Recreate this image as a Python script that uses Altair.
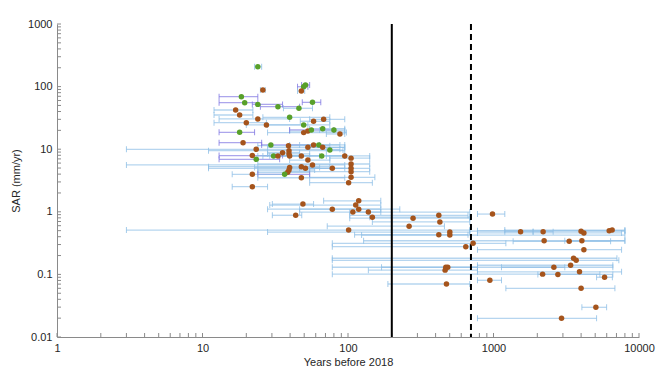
import altair as alt
import pandas as pd

# ---- data ----
# upper cluster (years before 2018, lower / upper bound of age, SAR, dot group, bar group)
years_u = [24, 26, 51, 49.6, 47.8, 18.5, 19.5, 24, 33, 46, 57, 16.9, 18, 24, 20, 27.5, 39.7, 58, 68, 49.6,
           18, 49.6, 53, 56, 67, 80, 88, 19, 29.5, 39, 53, 58, 63, 67, 75, 23.4, 22, 23.4, 30.8, 33,
           35.5, 39.3, 39.3, 39.7, 47.8, 53, 66, 95, 105, 105, 105, 105, 57, 47.8, 51, 39.7, 39.3, 38.5, 36.7, 22,
           78, 47.8, 105, 101, 22]
lo_u = [22.8, 25, 48, 45, 45, 13, 13, 22, 25, 36, 48.5, 12, 12, 13, 12, 20, 26, 47, 54.5, 28,
        13, 28, 39.7, 39.7, 54.5, 63.8, 71, 13, 25.5, 24, 28, 39.7, 46.5, 54.5, 71, 3, 13, 13, 24, 26,
        28, 11, 28, 29, 33.9, 39.7, 46.5, 71, 75, 24, 46.5, 39.7, 3, 11, 11, 22.8, 24, 24, 24, 16,
        54.5, 24, 54.5, 54.5, 16]
hi_u = [25.5, 27, 54.5, 53, 50.4, 24, 24, 35.5, 46.5, 57, 65, 22.2, 22.2, 39.7, 27.5, 53, 75, 75, 95, 75,
        22.8, 97.5, 95, 80, 95, 95, 95, 25.5, 63.8, 75, 95, 95, 88, 95, 92.4, 88, 35.5, 33.9, 46.5, 54.5,
        46.5, 95, 54.5, 63.8, 95, 75, 95, 141, 141, 141, 141, 141, 95, 75, 95, 63.8, 59, 54.5, 54.5, 36.7,
        102.8, 95, 153, 147, 28]
sar_u = [208, 88, 106, 99.6, 85, 69, 55.3, 52, 47.7, 45, 56, 42.3, 35.2, 30.4, 26.5, 24.4, 32.3, 27.9, 30, 24.4,
         18.6, 18.4, 19.5, 20.3, 21.3, 20.3, 17.5, 12.7, 11.7, 11.4, 10.7, 11.7, 11.7, 10.7, 9.7, 9.96, 7.9, 6.9, 7.8, 7.8,
         8.8, 9.46, 8.4, 7.8, 7.8, 6.7, 7.8, 7.8, 7.2, 5.8, 4.95, 4.38, 5.6, 5.25, 4.95, 5.1, 4.65, 4.28, 3.97, 3.97,
         4.95, 3.5, 3.56, 2.92, 2.52]
dot_u = ["G", "B", "G", "G", "B", "G", "G", "G", "G", "G", "G", "B", "B", "B", "B", "B", "G", "B", "B", "G",
         "G", "B", "B", "G", "G", "G", "B", "B", "G", "B", "B", "B", "G", "B", "G", "B", "B", "G", "G", "B",
         "B", "B", "B", "B", "B", "B", "G", "B", "B", "B", "B", "B", "B", "B", "B", "B", "B", "B", "G", "B",
         "B", "B", "B", "B", "B"]
bar_u = ["b", "b", "p", "p", "b", "p", "p", "p", "p", "b", "p", "b", "b", "b", "b", "b", "b", "b", "b", "b",
         "p", "b", "b", "p", "b", "b", "b", "p", "p", "b", "b", "b", "b", "b", "b", "b", "p", "p", "b", "b",
         "b", "b", "b", "b", "b", "b", "b", "b", "b", "b", "b", "b", "b", "b", "b", "b", "b", "b", "p", "b",
         "b", "b", "b", "b", "b"]

# lower cluster (all brown dots, blue bars)
years_l = [49, 118.5, 113, 78, 118.5, 108, 138, 43.7, 147, 280, 421, 428, 263, 984, 101, 421, 501, 501, 1535, 2193,
           4000, 4180, 6240, 6540, 2229, 3313, 4050, 645, 724, 4180, 3550, 3700, 470, 485, 465, 2600, 3388, 3900, 2175, 2770,
           5800, 944, 475, 4000, 5055, 2935]
lo_l = [30.2, 68, 29, 28, 46.5, 46.5, 102.8, 30.2, 141, 102.8, 102.8, 147, 72, 776, 3, 111, 28, 124, 1196, 1871,
        687, 776, 776, 1196, 128, 1364, 3090, 78, 78, 776, 78, 78, 78, 170, 138, 1135, 776, 776, 78, 2018,
        5110, 776, 188, 1216, 4050, 776]
hi_l = [58, 168, 168, 168, 227, 168, 687, 48.1, 687, 687, 668, 687, 460, 1196, 687, 668, 687, 8000, 1871, 2570,
        8000, 7590, 8000, 8000, 8000, 6380, 8000, 687, 1216, 7590, 7050, 7270, 776, 3090, 776, 6610, 6610, 7590, 5385, 6610,
        6560, 1135, 687, 6830, 5990, 5110]
sar_l = [1.33, 1.50, 1.28, 1.10, 1.10, 0.99, 0.99, 0.88, 0.82, 0.79, 0.88, 0.69, 0.59, 0.92, 0.51, 0.43, 0.475, 0.425, 0.48, 0.48,
         0.49, 0.46, 0.50, 0.51, 0.345, 0.338, 0.345, 0.277, 0.314, 0.248, 0.181, 0.168, 0.13, 0.13, 0.117, 0.13, 0.14, 0.11, 0.101, 0.10,
         0.09, 0.0805, 0.0703, 0.06, 0.0298, 0.0199]

ref_years = [200, 700]
x_labels = [1, 10, 100, 1000, 10000]
y_labels = [0.01, 0.1, 1, 10, 100, 1000]

# ---- build table ----
df = pd.DataFrame({
    "years": years_u + years_l,
    "lo": lo_u + lo_l,
    "hi": hi_u + hi_l,
    "sar": sar_u + sar_l,
    "dot": dot_u + ["B"] * len(years_l),
    "bar": bar_u + ["b"] * len(years_l),
})

x_minor = [m * 10 ** k for k in range(4) for m in range(1, 10)] + [10000]
y_minor = [m * 10.0 ** k for k in range(-2, 3) for m in range(1, 10)] + [1000]

W, H = 582, 313
XT = "Years before 2018"
YT = "SAR (mm/yr)"
xscale = alt.Scale(type="log", domain=[1, 10000], nice=False)
yscale = alt.Scale(type="log", domain=[0.01, 1000], nice=False)
FONT = "Liberation Sans"
xaxis = alt.Axis(values=x_labels, format="d", ticks=False, grid=False, domainColor="#8a8a8a",
                 labelFont=FONT, labelFontSize=11, labelColor="#262626", labelPadding=5,
                 titleFont=FONT, titleFontSize=11, titleFontWeight="normal", titleColor="#262626",
                 titlePadding=3, labelFlush=False)
yaxis = alt.Axis(values=y_labels, format="~g", ticks=False, grid=False, domainColor="#8a8a8a",
                 labelFont=FONT, labelFontSize=11, labelColor="#262626", labelPadding=5,
                 titleFont=FONT, titleFontSize=11, titleFontWeight="normal", titleColor="#262626",
                 titlePadding=6, labelFlush=False)

base = alt.Chart(df)
bar_scale = alt.Scale(domain=["b", "p"], range=["#8fbfe6", "#7f77e2"])
dot_scale = alt.Scale(domain=["B", "G"], range=["#a5541c", "#58a02a"])

bars = base.mark_rule(strokeWidth=1.3, opacity=0.65).encode(
    x=alt.X("lo:Q", scale=xscale, axis=xaxis, title=XT),
    x2="hi:Q",
    y=alt.Y("sar:Q", scale=yscale, axis=yaxis, title=YT),
    color=alt.Color("bar:N", scale=bar_scale, legend=None),
)
cap_lo = base.mark_tick(orient="vertical", size=6, thickness=1, opacity=0.8).encode(
    x=alt.X("lo:Q", scale=xscale, title=XT),
    y=alt.Y("sar:Q", scale=yscale, title=YT),
    color=alt.Color("bar:N", scale=bar_scale, legend=None),
)
cap_hi = base.mark_tick(orient="vertical", size=6, thickness=1, opacity=0.8).encode(
    x=alt.X("hi:Q", scale=xscale, title=XT),
    y=alt.Y("sar:Q", scale=yscale, title=YT),
    color=alt.Color("bar:N", scale=bar_scale, legend=None),
)
dots = base.mark_circle(size=30, opacity=1).encode(
    x=alt.X("years:Q", scale=xscale, title=XT),
    y=alt.Y("sar:Q", scale=yscale, title=YT),
    color=alt.Color("dot:N", scale=dot_scale, legend=None),
)

solid = alt.Chart(pd.DataFrame({"r": ref_years[:1]})).mark_rule(color="black", strokeWidth=2).encode(
    x=alt.X("r:Q", scale=xscale, title=XT))
dashed = alt.Chart(pd.DataFrame({"r": ref_years[1:]})).mark_rule(
    color="black", strokeWidth=2, strokeDash=[6, 4]).encode(x=alt.X("r:Q", scale=xscale, title=XT))

xticks = alt.Chart(pd.DataFrame({"t": x_minor})).mark_rule(color="#8a8a8a", strokeWidth=1).encode(
    x=alt.X("t:Q", scale=xscale, title=XT), y=alt.value(H), y2=alt.value(H - 4))
yticks = alt.Chart(pd.DataFrame({"t": y_minor})).mark_rule(color="#8a8a8a", strokeWidth=1).encode(
    y=alt.Y("t:Q", scale=yscale, title=YT), x=alt.value(0), x2=alt.value(4))

chart = alt.layer(bars, cap_lo, cap_hi, xticks, yticks, solid, dashed, dots).resolve_scale(
    color="independent"
).properties(
    width=W, height=H,
    autosize=alt.AutoSizeParams(type="none"),
    padding={"left": 57, "top": 24, "right": 31, "bottom": 40},
    background="white",
).configure_view(stroke=None)

chart.save("out.html", embed_options={"renderer": "svg", "actions": False})
